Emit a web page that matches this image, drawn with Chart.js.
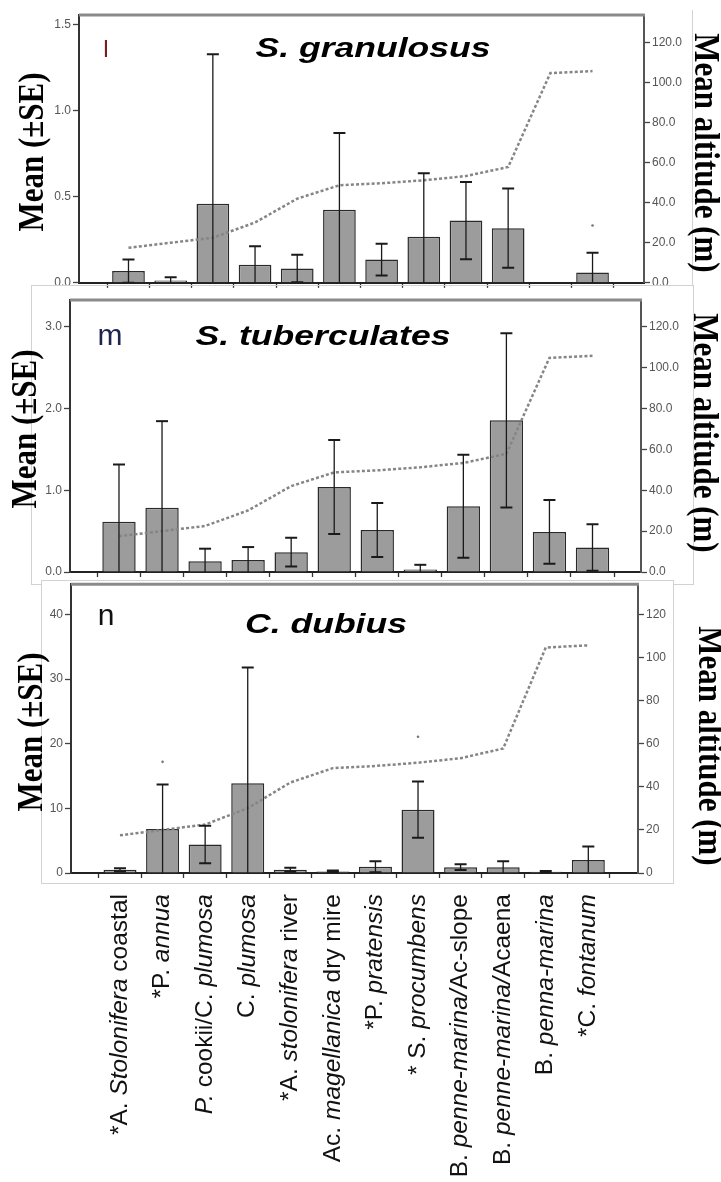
<!DOCTYPE html>
<html>
<head>
<meta charset="utf-8">
<script src="https://cdn.jsdelivr.net/npm/chart.js@4.4.1/dist/chart.umd.min.js"></script>
<style>
  body { margin: 0; background: #fff; }
  #page { position: relative; width: 721px; height: 1182px; overflow: hidden; }
  canvas { position: absolute; left: 0; }
  .edge { position: absolute; border: 1px solid #d2d2d2; box-sizing: border-box; }
</style>
</head>
<body>
<div id="page">
  <div class="edge" style="left:692px;top:10px;width:1px;height:276px;border-width:0 0 0 1px"></div>
  <canvas id="p1" width="721" height="292" style="top:0"></canvas>
  <div class="edge" style="left:31px;top:285px;width:663px;height:300px"></div>
  <canvas id="p2" width="721" height="296" style="top:288px"></canvas>
  <div class="edge" style="left:41px;top:580px;width:633px;height:304px;background:#fff"></div>
  <canvas id="p3" width="721" height="607" style="top:575px"></canvas>
</div>
<script>
// habitats (x categories), the part of each name set in italics
var categories = ['*A. Stolonifera coastal', '*P. annua', 'P. cookii/C. plumosa', 'C. plumosa',
  '*A. stolonifera river', 'Ac. magellanica dry mire', '*P. pratensis', '* S. procumbens',
  'B. penne-marina/Ac-slope', 'B. penne-marina/Acaena', 'B. penna-marina', '*C. fontanum'];
var italicParts = [['Stolonifera'], ['annua'], ['P.', 'plumosa'], ['plumosa'], ['stolonifera'],
  ['magellanica'], ['pratensis'], ['procumbens'], ['penne-marina/'], ['penne-marina/'],
  ['penna-marina'], ['fontanum']];

// mean altitude of each habitat (right axis, same in every panel)
var altitude = [17.5, 20, 22.5, 30.1, 42, 48.7, 49.7, 51.2, 53.3, 57.8, 104.7, 105.7];

// l  S. granulosus
var granMean = [0.068, 0.014, 0.46, 0.105, 0.083, 0.425, 0.135, 0.268, 0.362, 0.318, 0.003, 0.06];
var granSE   = [0.067, 0.019, 0.87, 0.108, 0.08, 0.447, 0.092, 0.37, 0.225, 0.23, 0, 0.115];
var granDots = [{x: 11, y: 0.333}];
// m  S. tuberculates
var tuberMean = [0.615, 0.785, 0.13, 0.148, 0.243, 1.04, 0.515, 0.03, 0.805, 1.855, 0.49, 0.3];
var tuberSE   = [0.7, 1.06, 0.155, 0.157, 0.175, 0.575, 0.33, 0.058, 0.63, 1.065, 0.39, 0.285];
// n  C. dubius
var dubMean = [0.5, 6.8, 4.4, 13.9, 0.5, 0.25, 0.95, 9.8, 0.9, 0.9, 0.2, 2.0];
var dubSE   = [0.25, 6.9, 2.9, 17.9, 0.3, 0.15, 0.85, 4.35, 0.45, 0.9, 0.1, 2.1];
var dubDots = [{x: 1, y: 17.2}, {x: 7, y: 21.1}];

// tick labels
var granTicks = [0, 0.5, 1.0, 1.5];
var tuberTicks = [0, 1.0, 2.0, 3.0];
var dubTicks = [0, 10, 20, 30, 40];
var altTicks = [0, 20, 40, 60, 80, 100, 120];

Chart.defaults.font.family = '"Liberation Sans", Arial, sans-serif';

// whiskers: mean + SE on top, mean - SE below (cut at the axis)
function errorBars(mean, se) {
  return {
    id: 'errorBars',
    afterDatasetsDraw: function(chart) {
      var ctx = chart.ctx, a = chart.chartArea, x = chart.scales.x, y = chart.scales.y;
      ctx.save();
      ctx.beginPath();
      ctx.rect(a.left, a.top, a.right - a.left, a.bottom - a.top);
      ctx.clip();
      ctx.strokeStyle = '#1a1a1a';
      mean.forEach(function(m, i) {
        if (!se[i]) return;
        var px = x.getPixelForValue(i);
        var top = y.getPixelForValue(m + se[i]);
        var lo = m - se[i];
        var bot = y.getPixelForValue(Math.max(lo, 0));
        ctx.lineWidth = 1.3;
        ctx.beginPath(); ctx.moveTo(px, bot); ctx.lineTo(px, top); ctx.stroke();
        ctx.lineWidth = 2;
        ctx.beginPath(); ctx.moveTo(px - 6, top); ctx.lineTo(px + 6, top);
        if (lo > 0) { ctx.moveTo(px - 6, bot); ctx.lineTo(px + 6, bot); }
        ctx.stroke();
      });
      ctx.restore();
    }
  };
}

// grey top edge of the plot frame
var frameTop = {
  id: 'frameTop',
  afterDraw: function(chart) {
    var ctx = chart.ctx, a = chart.chartArea;
    ctx.save();
    ctx.strokeStyle = '#8a8a8a';
    ctx.lineWidth = 3;
    ctx.beginPath(); ctx.moveTo(a.left, a.top); ctx.lineTo(a.right + 1, a.top); ctx.stroke();
    ctx.restore();
  }
};

// free text: panel letter, species title, axis titles (page coordinates)
function textLayer(items, offsetY) {
  return {
    id: 'textLayer',
    afterDraw: function(chart) {
      var ctx = chart.ctx;
      items.forEach(function(t) {
        ctx.save();
        ctx.translate(t.x, t.y - offsetY);
        ctx.scale(t.sx || 1, 1);
        ctx.rotate(t.rot || 0);
        ctx.font = t.font;
        ctx.fillStyle = t.color || '#000';
        ctx.textAlign = 'center';
        ctx.textBaseline = t.base || 'middle';
        ctx.fillText(t.text, 0, 0);
        ctx.restore();
      });
    }
  };
}

// rotated habitat names under the last panel, italics mixed in
function speciesLabels(topY) {
  return {
    id: 'speciesLabels',
    afterDraw: function(chart) {
      var ctx = chart.ctx, x = chart.scales.x, size = 24.5;
      ctx.save();
      ctx.fillStyle = '#111';
      ctx.textBaseline = 'middle';
      categories.forEach(function(label, i) {
        var flags = [];
        for (var k = 0; k < label.length; k++) flags.push(false);
        italicParts[i].forEach(function(p) {
          var at = label.indexOf(p);
          for (var k = at; k >= 0 && k < at + p.length; k++) flags[k] = true;
        });
        var segs = [], cur = null;
        for (var k = 0; k < label.length; k++) {
          if (!cur || cur.it !== flags[k]) { cur = {t: '', it: flags[k]}; segs.push(cur); }
          cur.t += label[k];
        }
        var total = 0;
        segs.forEach(function(s) {
          ctx.font = (s.it ? 'italic ' : '') + size + 'px "Liberation Sans"';
          s.w = ctx.measureText(s.t).width;
          total += s.w;
        });
        ctx.save();
        ctx.translate(x.getPixelForValue(i), topY);
        ctx.rotate(-Math.PI / 2);
        var cx = -total;
        segs.forEach(function(s) {
          ctx.font = (s.it ? 'italic ' : '') + size + 'px "Liberation Sans"';
          ctx.fillText(s.t, cx, 0);
          cx += s.w;
        });
        ctx.restore();
      });
      ctx.restore();
    }
  };
}

function points(values) {
  return values.map(function(v, i) { return {x: i, y: v}; });
}

function panel(p) {
  var datasets = [
    {
      type: 'line', data: points(altitude), yAxisID: 'y1', order: 0,
      borderColor: '#858585', borderWidth: 2.5, borderDash: [3, 2.2],
      pointRadius: 0, tension: 0, fill: false
    },
    {
      type: 'bar', data: points(p.mean), yAxisID: 'y', order: 1,
      backgroundColor: '#9c9c9c', borderColor: '#2a2a2a', borderWidth: 1.5,
      barPercentage: 0.775, categoryPercentage: 1
    }
  ];
  if (p.dots) {
    datasets.push({
      type: 'scatter', data: p.dots, yAxisID: 'y', order: 0,
      pointRadius: 1.3, pointBackgroundColor: '#777', pointBorderWidth: 0
    });
  }
  var plugins = [frameTop, errorBars(p.mean, p.se), textLayer(p.texts, p.offsetY)];
  if (p.labels) plugins.push(speciesLabels(p.labelTop - p.offsetY));
  return new Chart(document.getElementById(p.id), {
    type: 'bar',
    data: {datasets: datasets},
    plugins: plugins,
    options: {
      responsive: false,
      animation: false,
      devicePixelRatio: 1,
      layout: {padding: {top: p.top - p.offsetY, left: 0, right: 0, bottom: 0}},
      plugins: {legend: {display: false}, tooltip: {enabled: false}},
      scales: {
        x: {
          type: 'linear', offset: false, min: p.xMin, max: p.xMax,
          afterBuildTicks: function(s) { s.ticks = categories.map(function(c, i) { return {value: i}; }); },
          afterFit: function(s) { s.height = p.canvasH - (p.bottom - p.offsetY); },
          ticks: {display: false},
          grid: {drawOnChartArea: false, tickLength: 5, color: '#333', tickWidth: 1.3},
          border: {color: '#222', width: 2}
        },
        y: {
          position: 'left', min: 0, max: p.yMax,
          afterBuildTicks: function(s) { s.ticks = p.ticks.map(function(v) { return {value: v}; }); },
          afterFit: function(s) { s.width = p.left; },
          ticks: {
            color: '#555', font: {size: 12}, padding: 2,
            callback: function(v) { return p.fmt(v); }
          },
          grid: {drawOnChartArea: false, tickLength: 6, color: '#444', tickWidth: 1.3},
          border: {color: '#333', width: 2}
        },
        y1: {
          position: 'right', min: 0, max: p.altMax,
          afterBuildTicks: function(s) { s.ticks = altTicks.map(function(v) { return {value: v}; }); },
          afterFit: function(s) { s.width = 721 - p.right; },
          ticks: {
            color: '#555', font: {size: 12}, padding: 2,
            callback: function(v) { return p.altFmt(v); }
          },
          grid: {drawOnChartArea: false, tickLength: 6, color: '#444', tickWidth: 1.3},
          border: {color: '#555', width: 2}
        }
      }
    }
  });
}

var titleFont = 'bold italic 28px "Liberation Sans"';
var axisFont = 'bold 31px "Liberation Serif"';
var one = function(v) { return v.toFixed(1); };
var whole = function(v) { return String(v); };

panel({
  id: 'p1', offsetY: 0, canvasH: 292, top: 15, bottom: 283, left: 79, right: 644,
  xMin: -1.173, xMax: 12.22, yMax: 1.558, altMax: 133.7,
  mean: granMean, se: granSE, dots: granDots, ticks: granTicks, fmt: one, altFmt: one,
  texts: [
    {text: 'l', x: 106, y: 57, font: '24px "Liberation Sans"', color: '#7a1f1f', base: 'alphabetic'},
    {text: 'S. granulosus', x: 373, y: 57, font: titleFont, sx: 1.27, base: 'alphabetic'},
    {text: 'Mean (\u00b1SE)', x: 34, y: 152, font: axisFont, sx: 1.18, rot: -Math.PI / 2},
    {text: 'Mean altitude (m)', x: 704, y: 153, font: axisFont, sx: 1.18, rot: Math.PI / 2}
  ]
});

panel({
  id: 'p2', offsetY: 288, canvasH: 296, top: 300, bottom: 572, left: 70, right: 641,
  xMin: -1.138, xMax: 12.127, yMax: 3.327, altMax: 133,
  mean: tuberMean, se: tuberSE, ticks: tuberTicks, fmt: one, altFmt: one,
  texts: [
    {text: 'm', x: 110, y: 345, font: '30px "Liberation Sans"', color: '#1b2550', base: 'alphabetic'},
    {text: 'S. tuberculates', x: 323, y: 345, font: titleFont, sx: 1.27, base: 'alphabetic'},
    {text: 'Mean (\u00b1SE)', x: 27, y: 429, font: axisFont, sx: 1.18, rot: -Math.PI / 2},
    {text: 'Mean altitude (m)', x: 703, y: 433, font: axisFont, sx: 1.18, rot: Math.PI / 2}
  ]
});

panel({
  id: 'p3', offsetY: 575, canvasH: 607, top: 582, bottom: 873, left: 71, right: 638,
  xMin: -1.151, xMax: 12.167, yMax: 44.7, altMax: 134.1,
  mean: dubMean, se: dubSE, dots: dubDots, ticks: dubTicks, fmt: whole, altFmt: whole,
  labels: true, labelTop: 894,
  texts: [
    {text: 'n', x: 106, y: 625, font: '30px "Liberation Sans"', color: '#111', base: 'alphabetic'},
    {text: 'C. dubius', x: 326, y: 633, font: titleFont, sx: 1.27, base: 'alphabetic'},
    {text: 'Mean (\u00b1SE)', x: 33, y: 732, font: axisFont, sx: 1.18, rot: -Math.PI / 2},
    {text: 'Mean altitude (m)', x: 708, y: 746, font: axisFont, sx: 1.18, rot: Math.PI / 2}
  ]
});
</script>
</body>
</html>
